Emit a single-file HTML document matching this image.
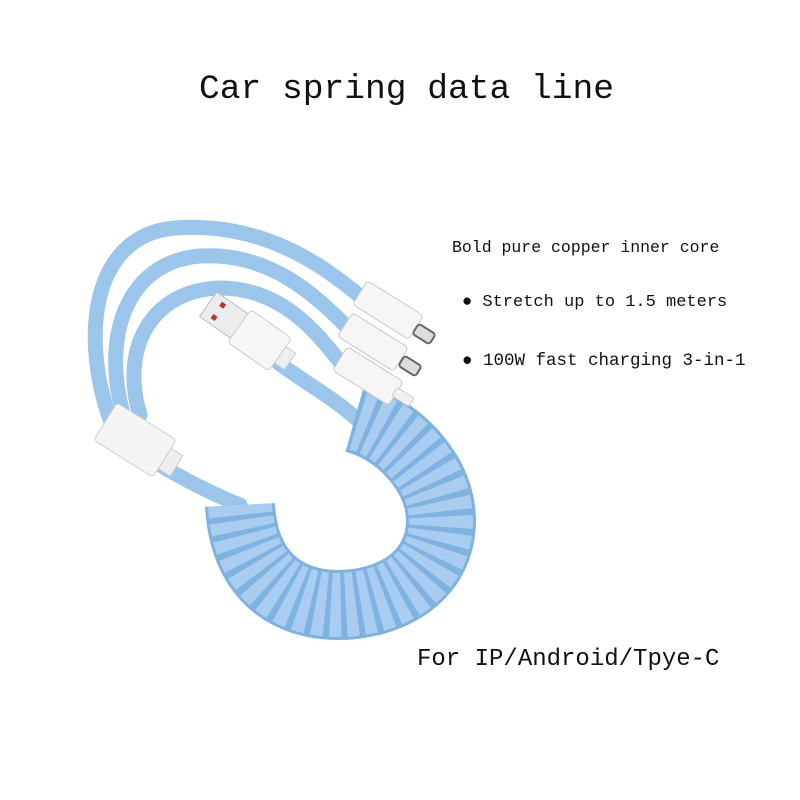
<!DOCTYPE html>
<html><head><meta charset="utf-8"><style>
html,body{margin:0;padding:0;background:#fff}
body{width:800px;height:800px;position:relative;overflow:hidden;font-family:"Liberation Mono",monospace;color:#111}
.t{position:absolute;white-space:nowrap}
</style></head><body>
<svg width="800" height="800" style="position:absolute;left:0;top:0">
  <g fill="none" stroke="#9cc5ec" stroke-width="15" stroke-linecap="round">
    <path d="M112,425 C80,340 90,235 175,228 C260,222 320,262 362,298"/>
    <path d="M125,420 C100,340 125,262 200,256 C270,252 315,295 348,328"/>
    <path d="M140,415 C120,350 150,290 220,288 C280,288 315,330 340,362"/>
    <path d="M160,465 C185,480 215,495 240,505"/>
    <path d="M275,360 C300,380 330,395 358,420"/>
  </g>
  <path d="M240,505 C245,600 320,615 375,600 C445,580 455,515 425,470 C405,440 380,425 355,418" fill="none" stroke="#80b2e0" stroke-width="70" stroke-linecap="butt"/>
  <path d="M240,505 C245,600 320,615 375,600 C445,580 455,515 425,470 C405,440 380,425 355,418" fill="none" stroke="#a9cdf0" stroke-width="64" stroke-dasharray="10 5"/>
  <g transform="rotate(32 135 440)">
    <rect x="100" y="418" width="70" height="44" rx="4" fill="#f5f5f5" stroke="#cfcfcf"/>
    <rect x="170" y="428" width="14" height="24" fill="#eee" stroke="#ccc"/>
  </g>
  <g transform="rotate(35 245 330)">
    <rect x="200" y="315" width="38" height="30" fill="#ececec" stroke="#bbb"/>
    <rect x="210" y="320" width="5" height="5" fill="#b33"/><rect x="210" y="335" width="5" height="5" fill="#b33"/>
    <rect x="238" y="310" width="50" height="40" rx="4" fill="#f7f7f7" stroke="#ccc"/>
    <rect x="288" y="320" width="12" height="20" fill="#eee" stroke="#ccc"/>
  </g>
  <g fill="#f6f6f6" stroke="#c8c8c8">
    <rect x="355" y="296" width="66" height="28" rx="4" transform="rotate(32 388 310)"/>
    <rect x="340" y="328" width="66" height="28" rx="4" transform="rotate(32 373 342)"/>
    <rect x="335" y="362" width="66" height="28" rx="4" transform="rotate(32 368 376)"/>
  </g>
  <g fill="#ddd" stroke="#666" stroke-width="2">
    <rect x="414" y="328" width="20" height="12" rx="3" transform="rotate(32 424 334)"/>
    <rect x="400" y="360" width="20" height="12" rx="3" transform="rotate(32 410 366)"/>
  </g>
  <rect x="393" y="392" width="20" height="10" rx="2" fill="#f2f2f2" stroke="#ccc" transform="rotate(32 403 397)"/>
</svg>
<div class="t" style="left:199px;top:70px;font-size:34.6px">Car spring data line</div>
<div class="t" style="left:452px;top:238px;font-size:16.5px">Bold pure copper inner core</div>
<div class="t" style="left:462px;top:293px;font-size:17px">● Stretch up to 1.5 meters</div>
<div class="t" style="left:462px;top:351px;font-size:17.5px">● 100W fast charging 3-in-1</div>
<div class="t" style="left:417px;top:646px;font-size:24px">For IP/Android/Tpye-C</div>
</body></html>
